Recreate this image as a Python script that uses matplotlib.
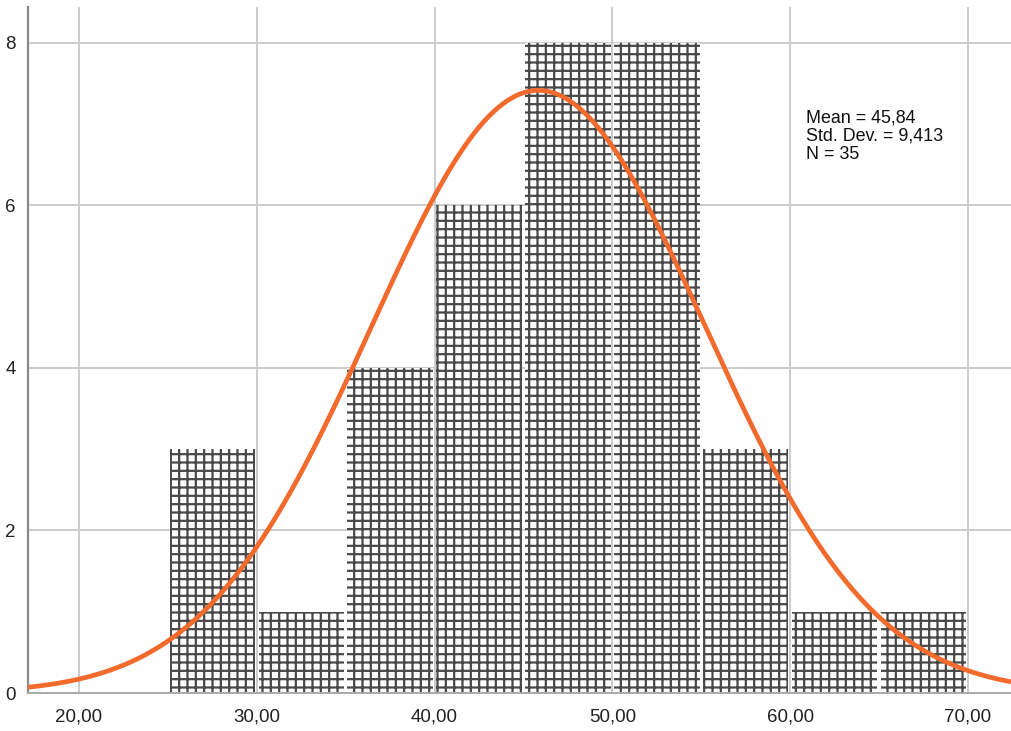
import numpy as np
import matplotlib.pyplot as plt

# histogram data (bin width 5)
bin_lefts = [25, 30, 35, 40, 45, 50, 55, 60, 65]
counts = [3, 1, 4, 6, 8, 8, 3, 1, 1]
bin_width = 5
mean = 45.84
std = 9.413
n = 35
x_ticks = [20, 30, 40, 50, 60, 70]
x_tick_labels = ["20,00", "30,00", "40,00", "50,00", "60,00", "70,00"]
y_ticks = [0, 2, 4, 6, 8]

plt.rcParams['font.family'] = ['Liberation Sans', 'DejaVu Sans']
plt.rcParams['hatch.linewidth'] = 1.6

fig = plt.figure(figsize=(10.11, 7.31), dpi=100)
ax = fig.add_axes([28 / 1011, 38 / 731, 1 - 28 / 1011, (724 - 38) / 731])

centers = [b + bin_width / 2 for b in bin_lefts]
ax.bar(centers, counts, width=4.8, facecolor="white", edgecolor="#484848",
       linewidth=0, hatch="++", zorder=2)

# normal curve from the reported stats
xs = np.linspace(17.13, 72.42, 400)
ys = n * bin_width / (std * np.sqrt(2 * np.pi)) * np.exp(-0.5 * ((xs - mean) / std) ** 2)
ax.plot(xs, ys, color="#f26a2c", linewidth=3.4, zorder=3, solid_capstyle="butt")

ax.set_xlim(17.13, 72.42)
ax.set_ylim(0, 8.443)
ax.set_xticks(x_ticks)
ax.set_xticklabels(x_tick_labels)
ax.set_yticks(y_ticks)
ax.tick_params(length=0, labelsize=13.5, colors="#222222")
ax.tick_params(axis="x", pad=11)
ax.tick_params(axis="y", pad=9)
ax.grid(True, color="#cccccc", linewidth=1.4, zorder=0)
ax.set_axisbelow(True)

for s in ["top", "right"]:
    ax.spines[s].set_visible(False)
ax.spines["left"].set_color("#8a8a8a")
ax.spines["left"].set_linewidth(1.6)
ax.spines["bottom"].set_color("#aaaaaa")
ax.spines["bottom"].set_linewidth(1.4)

ax.text(60.9, 7.18, "Mean = 45,84\nStd. Dev. = 9,413\nN = 35", fontsize=12.9,
        va="top", ha="left", linespacing=1.1, color="#111111", zorder=4)

plt.savefig("out.png", dpi=100)
